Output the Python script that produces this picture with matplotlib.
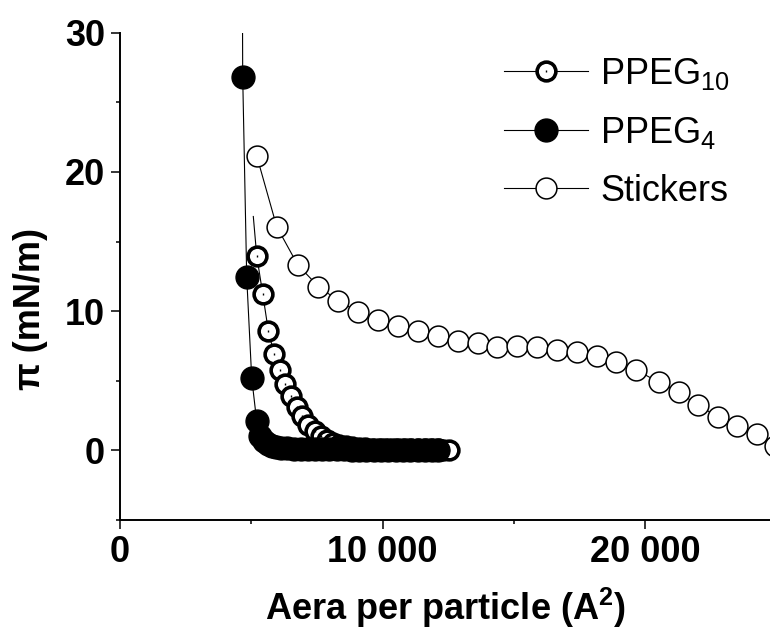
import matplotlib
matplotlib.use("Agg")
import matplotlib.pyplot as plt
from matplotlib.legend_handler import HandlerTuple
from matplotlib.ticker import MultipleLocator, FixedLocator, FixedFormatter

plt.rcParams["font.family"] = ["Liberation Sans", "DejaVu Sans"]
plt.rcParams["mathtext.fontset"] = "custom"
plt.rcParams["mathtext.rm"] = "Liberation Sans"
plt.rcParams["mathtext.it"] = "Liberation Sans:italic"
plt.rcParams["mathtext.bf"] = "Liberation Sans:bold"

# PPEG10 (open, thick edge) - first point is line only
ppeg10_x = [5078, 5208, 5436, 5650, 5867, 6095, 6298, 6502, 6726, 6945, 7175,
            7428, 7650, 7880, 8120, 8360, 8600, 8850, 9100, 9350, 9600, 9850,
            10100, 10350, 10600, 10850, 11100, 11350, 11600, 11850, 12100,
            12300, 12530]
ppeg10_y = [16.8, 13.98, 11.25, 8.59, 6.94, 5.74, 4.76, 3.88, 3.09, 2.44, 1.84,
            1.36, 1.00, 0.75, 0.55, 0.40, 0.30, 0.22, 0.17, 0.14, 0.12, 0.11,
            0.10, 0.10, 0.09, 0.09, 0.08, 0.08, 0.08, 0.07, 0.07,
            0.06, 0.06]

# PPEG4 (filled) - first point lies above the plotted range
ppeg4_x = [4650, 4674, 4827, 5017, 5208, 5350, 5480, 5620, 5780, 5950, 6150,
           6380, 6620, 6880, 7150, 7420, 7700, 7980, 8260, 8540, 8820, 9100,
           9380, 9660, 9940, 10220, 10500, 10780, 11060, 11340, 11620, 11900,
           12100]
ppeg4_y = [40.0, 26.85, 12.42, 5.20, 2.08, 1.00, 0.65, 0.45, 0.32, 0.24, 0.18,
           0.14, 0.12, 0.10, 0.09, 0.08, 0.08, 0.07, 0.07, 0.07, 0.06, 0.06,
           0.06, 0.06, 0.05, 0.05, 0.05, 0.05, 0.05, 0.05, 0.05, 0.05,
           0.05]

# Stickers (open, thin edge)
stickers_x = [5208, 5968, 6768, 7556, 8318, 9080, 9840, 10602, 11364, 12126,
              12888, 13650, 14370, 15131, 15893, 16655, 17417, 18156, 18895,
              19645, 20520, 21295, 22030, 22770, 23516, 24255, 24950]
stickers_y = [21.16, 16.08, 13.33, 11.77, 10.75, 9.93, 9.38, 8.95, 8.54, 8.18,
              7.83, 7.71, 7.40, 7.47, 7.40, 7.23, 7.04, 6.75, 6.32,
              5.79, 4.90, 4.16, 3.23, 2.42, 1.72, 1.18, 0.29]

x_ticks = [0, 10000, 20000]
x_ticklabels = ["0", "10 000", "20 000"]
y_ticks = [0, 10, 20, 30]
y_ticklabels = ["0", "10", "20", "30"]

FS = 26

fig = plt.figure(figsize=(7.7, 6.3), dpi=100)
ax = fig.add_axes([120 / 770, 110 / 630, 650 / 770, 487.3 / 630])

l10, = ax.plot(ppeg10_x, ppeg10_y, color="black", lw=0.8, marker="o",
               ms=13.5, mew=2.6, mfc="white", mec="black",
               markevery=list(range(1, len(ppeg10_x))), zorder=2)
d10, = ax.plot(ppeg10_x[1:], ppeg10_y[1:], ls="none", marker="|", ms=2,
               mew=1.0, color="black", zorder=2.1)
l4, = ax.plot(ppeg4_x, ppeg4_y, color="black", lw=0.8, marker="o",
              ms=16.5, mew=1.0, mfc="black", mec="black", zorder=3)
ls, = ax.plot(stickers_x, stickers_y, color="black", lw=0.8, marker="o",
              ms=15, mew=1.1, mfc="white", mec="black", zorder=4)

ax.set_xlim(0, 24760)
ax.set_ylim(-5, 30)

for side in ("top", "right"):
    ax.spines[side].set_visible(False)
for side in ("left", "bottom"):
    ax.spines[side].set_linewidth(1.4)

ax.xaxis.set_major_locator(FixedLocator(x_ticks))
ax.xaxis.set_major_formatter(FixedFormatter(x_ticklabels))
ax.xaxis.set_minor_locator(MultipleLocator(5000))
ax.yaxis.set_major_locator(FixedLocator(y_ticks))
ax.yaxis.set_major_formatter(FixedFormatter(y_ticklabels))
ax.yaxis.set_minor_locator(MultipleLocator(5))

ax.tick_params(which="major", direction="out", length=6.7, width=1.1,
               labelsize=FS, pad=4)
ax.tick_params(which="minor", direction="out", length=3.2, width=1.1)
for lab in ax.get_xticklabels() + ax.get_yticklabels():
    lab.set_fontweight("bold")

ax.set_xlabel(r"Aera per particle (A$^{\mathbf{2}}$)", fontsize=FS,
              fontweight="bold")
ax.xaxis.set_label_coords(0.5, -0.136)
ax.set_ylabel("\u03c0 (mN/m)", fontsize=FS, fontweight="bold")
ax.yaxis.set_label_coords(-0.111, 0.433)

ax.legend([(l10, d10), l4, ls],
          [r"PPEG$_{10}$", r"PPEG$_{4}$", "Stickers"],
          handler_map={tuple: HandlerTuple(ndivide=1, pad=0)},
          loc="upper left", bbox_to_anchor=(0.5908, 0.952),
          frameon=False, fontsize=FS, borderpad=0, borderaxespad=0,
          handlelength=2.33, handletextpad=0.33, labelspacing=0.63)

fig.savefig("out.png", dpi=100)
